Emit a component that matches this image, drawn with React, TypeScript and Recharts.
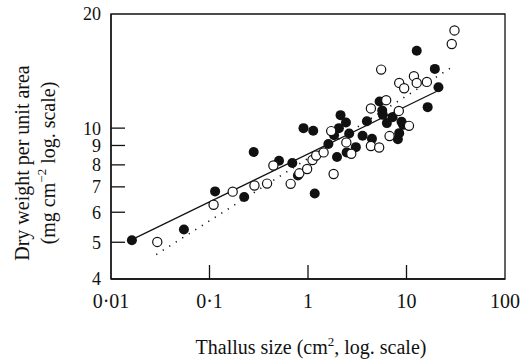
import React from 'react';
import { ScatterChart, Scatter, XAxis, YAxis, ReferenceArea, Label } from 'recharts';

// thallus size (cm2) vs dry weight (mg cm-2), filled = one group, open = other
const filledX = [0.0163, 0.055, 0.114, 0.225, 0.281, 0.508, 0.693, 0.79, 0.9, 1.13, 1.17, 1.61, 1.84, 1.97, 2.06, 2.14, 2.43, 2.47, 2.62, 3.06, 3.58, 3.96, 4.46, 5.33, 5.67, 5.75, 6.32, 7.22, 8.17, 8.43, 8.9, 9.25, 12.7, 16.4, 19.4, 21.1];
const filledY = [5.06, 5.4, 6.81, 6.58, 8.65, 8.2, 8.09, 7.5, 10.0, 9.84, 6.72, 9.08, 9.58, 8.39, 10.0, 10.82, 10.35, 8.63, 9.68, 8.91, 9.55, 10.43, 9.37, 11.75, 11.13, 10.84, 10.31, 10.69, 9.35, 9.7, 10.39, 10.2, 16.0, 11.36, 14.33, 12.82];

const openX = [0.0295, 0.11, 0.172, 0.286, 0.384, 0.445, 0.667, 0.817, 0.98, 1.11, 1.21, 1.44, 1.72, 1.82, 2.45, 2.75, 4.35, 4.35, 5.28, 5.53, 6.22, 6.73, 8.36, 8.43, 9.47, 10.6, 11.9, 12.7, 16.1, 28.8, 30.7];
const openY = [5.01, 6.28, 6.8, 7.06, 7.14, 7.97, 7.13, 7.6, 7.8, 8.24, 8.47, 8.63, 9.82, 7.57, 9.17, 8.56, 11.27, 8.97, 8.89, 14.27, 11.85, 9.53, 11.1, 13.16, 12.74, 10.14, 13.71, 13.16, 13.24, 16.67, 18.1];

// fitted lines (end points)
const solidX = [0.0163, 21.1];
const solidY = [5.08, 12.57];
const dottedX = [0.0288, 30.7];
const dottedY = [4.64, 14.63];

const xTicks = [0.01, 0.1, 1, 10, 100];
const yTicks = [4, 5, 6, 7, 8, 9, 10, 20];

const zip = (xs: number[], ys: number[]) => xs.map((x, i) => ({ x, y: ys[i] }));

const INK = '#111';
const FONT = "'Liberation Serif', 'Times New Roman', Tinos, 'DejaVu Serif', serif";
const FS = 20;
const txt = { fontFamily: FONT, fontSize: FS, fill: INK };

const fmtX = (v: number) => String(v).replace('.', '\u00b7');

const XTick = (props: any) => {
  const { x, y, payload } = props;
  const v = payload.value;
  const inner = v !== 0.01 && v !== 100;
  return (
    <g>
      {inner && <line x1={x} x2={x} y1={y - 15} y2={y - 29} stroke={INK} strokeWidth={1.3} />}
      <text x={x} y={y} dy="0.71em" textAnchor="middle" style={txt}>
        {fmtX(v)}
      </text>
    </g>
  );
};

const YTick = (props: any) => {
  const { x, y, payload } = props;
  const v = payload.value;
  const inner = v !== 4 && v !== 20;
  return (
    <g>
      {inner && <line x1={x + 10} x2={x + 24} y1={y} y2={y} stroke={INK} strokeWidth={1.3} />}
      <text x={x} y={y} dy="0.36em" textAnchor="end" style={{ ...txt, fontSize: 18 }}>
        {v}
      </text>
    </g>
  );
};

const YTitle = () => (
  <g>
    <text transform="translate(29,163) rotate(-90)" textAnchor="middle" style={txt}>Dry weight per unit area</text>
    <text transform="translate(55,163) rotate(-90)" textAnchor="middle" style={txt}>
      (mg cm<tspan style={{ fontSize: 13 }} dy={-9}>{'\u2212'}2</tspan>
      <tspan dy={9}> log. scale)</tspan>
    </text>
  </g>
);

const XTitle = () => (
  <text x={311} y={354} textAnchor="middle" style={txt}>
    Thallus size (cm<tspan style={{ fontSize: 13 }} dy={-8}>2</tspan>
    <tspan dy={8}>, log. scale)</tspan>
  </text>
);

const Dot = (props: any) => <circle cx={props.cx} cy={props.cy} r={5} fill={INK} stroke="none" />;
const Ring = (props: any) => <circle cx={props.cx} cy={props.cy} r={4.6} fill="#fff" stroke={INK} strokeWidth={1.2} />;
const NoShape = () => <g />;

export default function App() {
  return (
    <div style={{ position: 'absolute', left: 0, top: 0, background: '#fff' }}>
      <ScatterChart width={531} height={362} margin={{ top: 14, right: 26, bottom: 0, left: 0 }}>
        <XAxis
          type="number"
          dataKey="x"
          scale="log"
          domain={[0.01, 100]}
          ticks={xTicks}
          interval={0}
          allowDataOverflow
          height={83}
          tickSize={0}
          tickMargin={15}
          tickLine={false}
          tick={<XTick />}
          axisLine={{ stroke: INK, strokeWidth: 1.3 }}
        >
          <Label content={<XTitle />} />
        </XAxis>
        <YAxis
          type="number"
          dataKey="y"
          scale="log"
          domain={[4, 20]}
          ticks={yTicks}
          interval={0}
          allowDataOverflow
          width={111}
          tickSize={0}
          tickMargin={10}
          tickLine={false}
          tick={<YTick />}
          axisLine={{ stroke: INK, strokeWidth: 1.3 }}
        >
          <Label content={<YTitle />} />
        </YAxis>
        <ReferenceArea x1={0.01} x2={100} y1={4} y2={20} fill="none" stroke={INK} strokeWidth={1.3} ifOverflow="visible" />
        <Scatter data={zip(solidX, solidY)} line={{ stroke: INK, strokeWidth: 1.2 }} lineType="joint" shape={<NoShape />} isAnimationActive={false} />
        <Scatter data={zip(dottedX, dottedY)} line={{ stroke: INK, strokeWidth: 1.6, strokeDasharray: '1.2 6.5' }} lineType="joint" shape={<NoShape />} isAnimationActive={false} />
        <Scatter data={zip(filledX, filledY)} shape={<Dot />} isAnimationActive={false} />
        <Scatter data={zip(openX, openY)} shape={<Ring />} isAnimationActive={false} />
      </ScatterChart>
    </div>
  );
}
